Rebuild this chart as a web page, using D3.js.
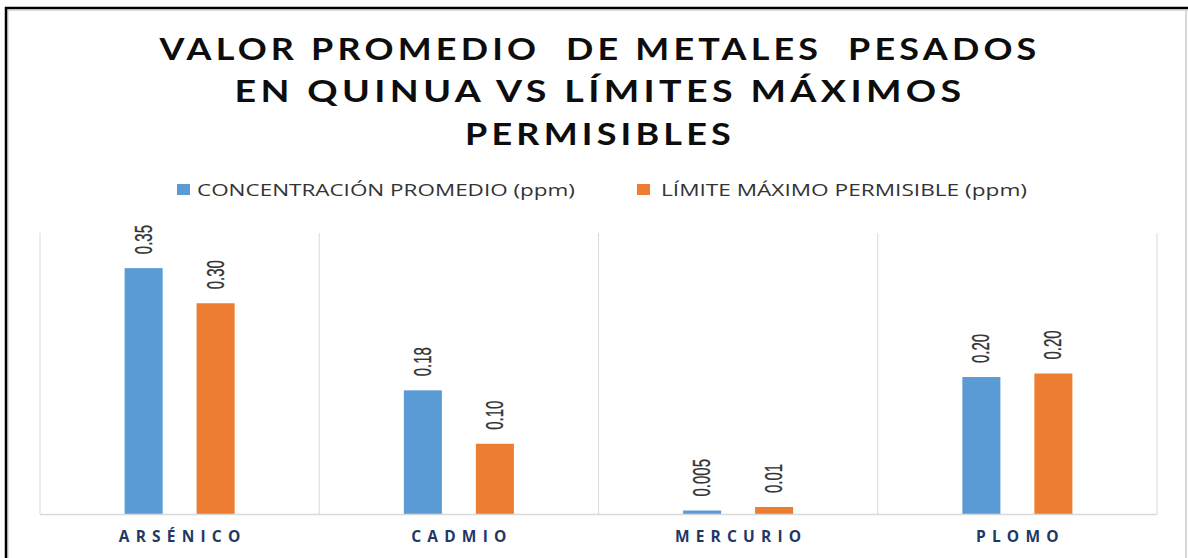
<!DOCTYPE html>
<html>
<head>
<meta charset="utf-8">
<script src="https://cdn.jsdelivr.net/npm/d3@7"></script>
<style>
  html, body { margin: 0; padding: 0; background: #fff; }
  svg { display: block; }
</style>
</head>
<body>
<script>
// ---- data ----
const categories = ["ARSÉNICO", "CADMIO", "MERCURIO", "PLOMO"];
const seriesNames = ["CONCENTRACIÓN PROMEDIO (ppm)", "LÍMITE MÁXIMO PERMISIBLE (ppm)"];
const concentracion = [0.35, 0.176, 0.005, 0.195];
const limite = [0.30, 0.10, 0.01, 0.20];
const concentracionLabels = ["0.35", "0.18", "0.005", "0.20"];
const limiteLabels = ["0.30", "0.10", "0.01", "0.20"];
const titleLines = ["VALOR PROMEDIO  DE METALES  PESADOS", "EN QUINUA VS LÍMITES MÁXIMOS", "PERMISIBLES"];
const colors = ["#5B9BD5", "#ED7D31"];

const W = 1188, H = 558;
const svg = d3.select("body").append("svg").attr("width", W).attr("height", H);

// frame
svg.append("rect").attr("x", 0).attr("y", 0).attr("width", W).attr("height", H).attr("fill", "#fff");
svg.append("line").attr("x1", 8).attr("x2", 8).attr("y1", 10).attr("y2", H).attr("stroke", "#d9d9d9").attr("stroke-width", 1.5);
svg.append("line").attr("x1", 1186).attr("x2", 1186).attr("y1", 10).attr("y2", H).attr("stroke", "#d9d9d9").attr("stroke-width", 2);
svg.append("line").attr("x1", 6).attr("x2", 1188).attr("y1", 10.5).attr("y2", 10.5).attr("stroke", "#d9d9d9").attr("stroke-width", 1);
svg.append("line").attr("x1", 5).attr("x2", 1188).attr("y1", 8).attr("y2", 8).attr("stroke", "#000").attr("stroke-width", 2.5);
svg.append("line").attr("x1", 6).attr("x2", 6).attr("y1", 7).attr("y2", H).attr("stroke", "#000").attr("stroke-width", 2.5);

// title
const titleWidths = [881, 731, 270];
const titleBase = [60, 102, 145];
svg.append("g").selectAll("text").data(titleLines).join("text")
  .attr("x", 600).attr("y", (d, i) => titleBase[i])
  .attr("text-anchor", "middle")
  .style("white-space", "pre")
  .attr("font-family", "Lato, 'Open Sans', sans-serif")
  .attr("font-weight", 700).attr("font-size", 30)
  .attr("letter-spacing", 3.5)
  .attr("fill", "#0d0d0d")
  .attr("textLength", (d, i) => titleWidths[i])
  .attr("lengthAdjust", "spacingAndGlyphs")
  .text(d => d);

// legend
const legendItems = [
  { sx: 177, tx: 197, tw: 378 },
  { sx: 637, tx: 661, tw: 366 }
];
const lg = svg.append("g");
seriesNames.forEach((name, i) => {
  lg.append("rect").attr("x", legendItems[i].sx).attr("y", 184).attr("width", 13).attr("height", 11).attr("fill", colors[i]);
  lg.append("text").attr("x", legendItems[i].tx).attr("y", 196)
    .attr("font-family", "'Open Sans', 'Liberation Sans', sans-serif")
    .attr("font-size", 15.5).attr("fill", "#333")
    .attr("textLength", legendItems[i].tw).attr("lengthAdjust", "spacingAndGlyphs")
    .text(name);
});

// scales
const x0 = d3.scaleBand().domain(categories).range([40, 1157]).padding(0);
const x1 = d3.scaleBand().domain([0, 1]).range([0, x0.bandwidth()]).paddingInner(0.472).paddingOuter(1.175);
const y = d3.scaleLinear().domain([0, 0.4]).range([514, 233]);

// gridlines (category separators)
const bounds = categories.map(c => x0(c)).concat([x0.range()[1]]);
svg.append("g").selectAll("line").data(bounds).join("line")
  .attr("x1", d => d).attr("x2", d => d)
  .attr("y1", y(0.4)).attr("y2", y(0))
  .attr("stroke", "#d9d9d9").attr("stroke-width", 1);

// bars
const series = [concentracion, limite];
const labels = [concentracionLabels, limiteLabels];
const barsG = svg.append("g");
series.forEach((vals, s) => {
  barsG.selectAll(null).data(vals).join("rect")
    .attr("x", (d, i) => x0(categories[i]) + x1(s))
    .attr("width", x1.bandwidth())
    .attr("y", d => y(d))
    .attr("height", d => y(0) - y(d))
    .attr("fill", colors[s]);
});

// baseline axis
svg.append("line").attr("x1", 40).attr("x2", 1157).attr("y1", y(0) + 0.5).attr("y2", y(0) + 0.5)
  .attr("stroke", "#d9d9d9").attr("stroke-width", 1.5);

// value labels (rotated)
series.forEach((vals, s) => {
  svg.append("g").selectAll("text").data(vals).join("text")
    .attr("transform", (d, i) => {
      const cx = x0(categories[i]) + x1(s) + x1.bandwidth() / 2 + 8;
      return `translate(${cx},${y(d) - 14}) scale(1.55,1) rotate(-90)`;
    })
    .attr("font-family", "'Liberation Sans', Arial, sans-serif")
    .attr("font-size", 15).attr("fill", "#333")
    .attr("stroke", "#333").attr("stroke-width", 0.2)
    .text((d, i) => labels[s][i]);
});

// category axis labels
svg.append("g").selectAll("text").data(categories).join("text")
  .attr("x", d => x0(d) + x0.bandwidth() / 2 + 3)
  .attr("y", 542)
  .attr("text-anchor", "middle")
  .attr("font-family", "'Open Sans', 'DejaVu Sans', sans-serif")
  .attr("font-weight", 700).attr("font-size", 15.5)
  .attr("letter-spacing", 6.2)
  .attr("fill", "#1F3864")
  .text(d => d);
</script>
</body>
</html>
